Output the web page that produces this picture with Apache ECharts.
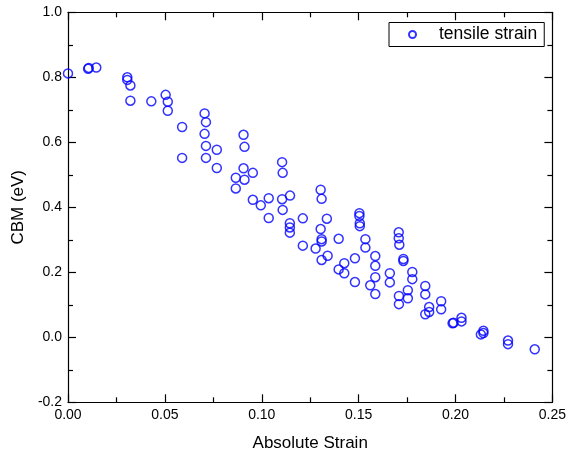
<!DOCTYPE html>
<html>
<head>
<meta charset="utf-8">
<script src="https://cdn.jsdelivr.net/npm/echarts@6/dist/echarts.min.js"></script>
<style>html,body{margin:0;padding:0;background:#fff}#c{width:569px;height:460px}</style>
</head>
<body>
<div id="c"></div>
<script>
var seriesName = 'tensile strain';
var strainValues = [0.000,0.0107,0.0104,0.0146,0.0306,0.0306,0.0322,0.0322,0.0430,0.0504,0.0515,0.0515,0.0589,0.0589,
0.0705,0.0712,0.0705,0.0712,0.0768,0.0712,0.0768,0.0906,0.0911,0.0906,0.0954,0.0866,0.0911,0.0866,0.1105,0.1108,
0.0954,0.0995,0.1036,0.1105,0.1146,0.1108,0.1036,0.1145,0.1145,0.1145,0.1212,0.1304,0.1309,0.1336,0.1304,0.1309,
0.1309,0.1212,0.1278,0.1397,0.1340,0.1309,0.1426,0.1397,0.1426,0.1481,0.1481,0.1504,0.1504,0.1506,0.1506,0.1535,
0.1535,0.1586,0.1586,0.1586,0.1560,0.1586,0.1661,0.1661,0.1707,0.1707,0.1710,0.1731,0.1731,0.1777,0.1777,0.1754,
0.1708,0.1754,0.1708,0.1844,0.1844,0.1864,0.1864,0.1844,0.1926,0.1926,0.2031,0.2031,0.1990,0.1985,0.2144,0.2144,
0.2131,0.2271,0.2271,0.2409];
var cbmValues = [0.812,0.829,0.826,0.830,0.800,0.792,0.775,0.728,0.726,0.746,0.725,0.697,0.647,0.552,
0.689,0.662,0.626,0.589,0.577,0.552,0.521,0.623,0.586,0.520,0.506,0.491,0.485,0.458,0.539,0.506,
0.423,0.406,0.428,0.425,0.436,0.392,0.367,0.351,0.338,0.322,0.366,0.454,0.426,0.365,0.333,0.302,
0.295,0.282,0.273,0.303,0.251,0.238,0.228,0.209,0.197,0.243,0.170,0.382,0.373,0.351,0.342,0.302,
0.276,0.250,0.220,0.185,0.160,0.133,0.197,0.169,0.323,0.305,0.285,0.241,0.235,0.201,0.179,0.145,
0.127,0.120,0.102,0.158,0.132,0.093,0.078,0.071,0.111,0.086,0.060,0.049,0.045,0.043,0.020,0.013,
0.009,-0.010,-0.021,-0.037];
var xTicks = {min: 0, max: 0.25, step: 0.05};
var yTicks = {min: -0.2, max: 1.0, step: 0.2};

var points = strainValues.map(function (x, i) { return [x, cbmValues[i]]; });
var FONT = 'Liberation Sans';
var lineStyle = {color: '#000', width: 1.2};
function axisBase(extra) {
  var a = {
    axisLine: {show: true, onZero: false, lineStyle: lineStyle},
    axisTick: {show: true, inside: true, length: 8, lineStyle: lineStyle},
    minorTick: {show: true, splitNumber: 2, length: 5, lineStyle: lineStyle},
    splitLine: {show: false},
    minorSplitLine: {show: false}
  };
  for (var k in extra) a[k] = extra[k];
  return a;
}
var chart = echarts.init(document.getElementById('c'), null, {renderer: 'canvas'});
chart.setOption({
  animation: false,
  backgroundColor: '#fff',
  grid: {left: 68, right: 15.5, top: 12.3, bottom: 57.7},
  xAxis: [
    axisBase({type: 'value', position: 'bottom', min: xTicks.min, max: xTicks.max, interval: xTicks.step,
      name: 'Absolute Strain', nameLocation: 'middle', nameGap: 33,
      nameTextStyle: {fontFamily: FONT, fontSize: 17, color: '#000'},
      axisLabel: {fontFamily: FONT, fontSize: 14, color: '#000', margin: 6,
        formatter: function (v) { return v.toFixed(2); }}}),
    axisBase({type: 'value', position: 'top', min: xTicks.min, max: xTicks.max, interval: xTicks.step,
      axisLabel: {show: false}})
  ],
  yAxis: [
    axisBase({type: 'value', position: 'left', min: yTicks.min, max: yTicks.max, interval: yTicks.step,
      name: 'CBM (eV)', nameLocation: 'middle', nameGap: 35, nameRotate: 90,
      nameTextStyle: {fontFamily: FONT, fontSize: 17, color: '#000'},
      axisLabel: {fontFamily: FONT, fontSize: 14, color: '#000', margin: 6,
        formatter: function (v) { return v.toFixed(1); }}}),
    axisBase({type: 'value', position: 'right', min: yTicks.min, max: yTicks.max, interval: yTicks.step,
      axisLabel: {show: false}})
  ],
  legend: {
    show: true, left: 389, top: 22.5, orient: 'horizontal',
    borderColor: '#000', borderWidth: 1, padding: [3, 7, 3, 19],
    itemWidth: 7, itemHeight: 7, itemGap: 0,
    textStyle: {fontFamily: FONT, fontSize: 17.5, color: '#000', padding: [0, 0, 0, 18]},
    data: [{name: seriesName, icon: 'circle'}]
  },
  series: [{
    name: seriesName, type: 'scatter', data: points, clip: false,
    symbol: 'circle', symbolSize: 9,
    itemStyle: {color: 'rgba(0,0,0,0)', borderColor: '#0000ff', borderWidth: 1.5}
  }]
});
</script>
</body>
</html>
